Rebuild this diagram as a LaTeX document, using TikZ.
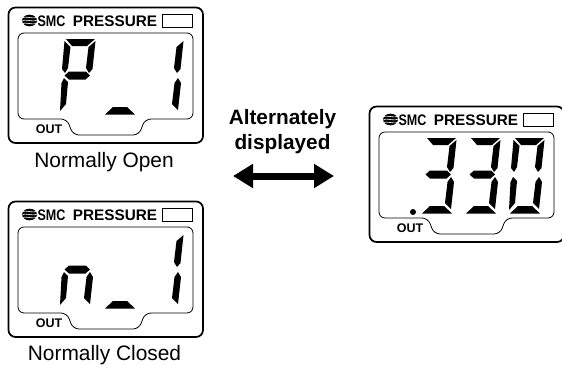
\documentclass[tikz,border=0pt]{standalone}
\usepackage{fontspec}
\setmainfont{Liberation Sans}
\usetikzlibrary{arrows.meta}
\tikzset{
  caption/.style={font=\fontsize{20.9}{25}\selectfont},
  boldtext/.style={font=\fontsize{#1}{25}\selectfont\bfseries,inner sep=0pt},
  lcd/.style={line width=0.8pt},
}
% one segment each, digit origin at its top left
\newcommand{\segA}{\fill (6,0) -- (35,0) -- (27,7) -- (12,7) -- cycle;}
\newcommand{\segB}{\fill (35.5,2) -- (28.5,8) -- (26,29) -- (29,34) -- (32.5,30) -- cycle;}
\newcommand{\segC}{\fill (30,39) -- (33,44) -- (30,71) -- (24,65) -- (26.5,44) -- cycle;}
\newcommand{\segD}{\fill (9,68) -- (23,68) -- (31,75.5) -- (1,75.5) -- cycle;}
\newcommand{\segE}{\fill (4,39) -- (8,43) -- (6,65) -- (0,72) -- (1.5,44) -- cycle;}
\newcommand{\segF}{\fill (4.5,2) -- (10.5,8) -- (8,29) -- (5,34) -- (2,30) -- cycle;}
\newcommand{\segG}{\fill (4.5,36.5) -- (9,32.5) -- (26,32.5) -- (30,36.5) -- (25.5,40.5) -- (9,40.5) -- cycle;}
\newcommand{\digit}[2]{\begin{scope}[shift={(#1,39)}]#2\end{scope}}
% the housing, common to the three displays
\newcommand{\panelface}{
  \draw [line width=1.7pt,rounded corners=7] (8.5,7.5) rectangle (203,143);
  \draw [lcd,rounded corners=6] (18,33) -- (193,33) -- (193,119) -- (145,119)
    -- (139,135) -- (73,135) -- (67,119) -- (18,119) -- cycle;
  \draw [lcd] (162,14) rectangle (192,27);
  \fill (29.5,20.5) ellipse [x radius=7.5, y radius=5.8];
  \foreach \h in {17.5,20.5,23.5}
    \draw [white,line width=0.6pt] (21,\h+1) .. controls (26,\h-3) and (32,\h+3) .. (38,\h-1);
  \node [boldtext=15.3,anchor=base] (smc) at (51.5,26.5) {\scalebox{0.82}[1]{SMC}};
  \node [boldtext=15.3,anchor=base] (pressure) at (115,26.5) {PRESSURE};
  \node [boldtext=12.5,anchor=base] (out) at (49,133) {OUT};
}
\begin{document}
\begin{tikzpicture}[x=1pt,y=-1pt]
  \useasboundingbox (0,0) rectangle (562,365);
  % normally open
  \begin{scope}[name prefix=open-]
    \panelface
    \digit{60}{\segA\segB\segF\segG\segE}
    \digit{104}{\segD}
    \digit{148}{\segB\segC}
  \end{scope}
  \node [caption] (captionopen) at (104,162) {Normally Open};
  % normally closed
  \begin{scope}[shift={(0,194)},name prefix=closed-]
    \panelface
    \digit{60}{\segG\segE\segC}
    \digit{104}{\segD}
    \digit{148}{\segB\segC}
  \end{scope}
  \node [caption] (captionclosed) at (104.5,355) {Normally Closed};
  % pressure value
  \begin{scope}[shift={(361,99)},name prefix=value-]
    \panelface
    \digit{60}{\segA\segB\segG\segC\segD}
    \digit{104}{\segA\segB\segG\segC\segD}
    \digit{148}{\segA\segB\segC\segD\segE\segF}
    \fill (52,113) circle [radius=3];
  \end{scope}
  \node [boldtext=20.8,align=center] (alternate) at (282.5,132) {Alternately\\displayed};
  \coordinate (arrowleft) at (233,176);
  \coordinate (arrowright) at (334,176);
  \draw [{Triangle[length=20pt,width=23pt]}-{Triangle[length=20pt,width=23pt]},line width=7pt] (arrowleft) -- (arrowright);
\end{tikzpicture}
\end{document}
